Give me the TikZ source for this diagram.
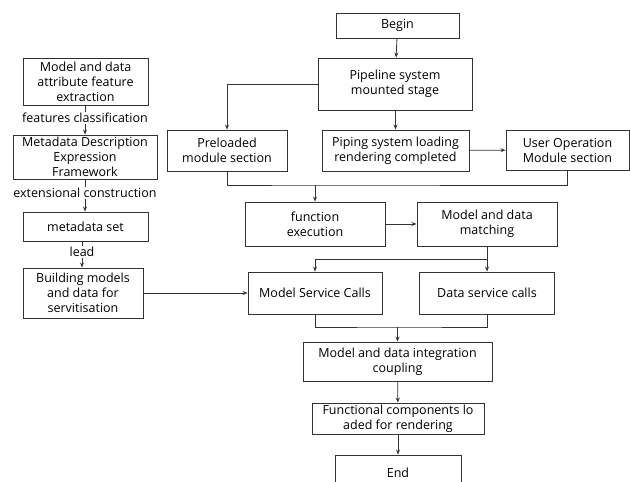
\documentclass[tikz,border=0pt]{standalone}
\usepackage{fontspec}
\setmainfont{Open Sans}
\usetikzlibrary{arrows.meta}
\begin{document}
\begin{tikzpicture}[x=1pt,y=-1pt,
  box/.style={draw=black!80,line width=0.9pt,inner sep=0pt,align=center,font=\fontsize{12.5}{15}\selectfont},
  lbl/.style={inner sep=1pt,font=\fontsize{12.5}{14}\selectfont},
  conn/.style={draw=black!80,line width=0.8pt},
  arr/.style={conn,-{Stealth[length=5pt,width=4pt]}}]
\useasboundingbox (0,0) rectangle (630,482);
\begin{scope}
\clip (0,0) rectangle (630,482);
% right column
\node[box,minimum width=123,minimum height=25] (begin) at (397.5,25.5) {Begin};
\node[box,minimum width=154,minimum height=52] (pipe) at (395,84) {Pipeline system\\mounted stage};
\node[box,minimum width=120,minimum height=41] (pre) at (227,150.5) {Preloaded\\module section};
\node[box,minimum width=147,minimum height=41] (piping) at (395.5,150.5) {Piping system loading\\rendering completed};
\node[box,minimum width=123,minimum height=40] (user) at (567.5,150) {User Operation\\Module section};
\node[box,minimum width=140,minimum height=44] (func) at (315,224) {function\\execution};
\node[box,minimum width=140,minimum height=44] (match) at (487,224) {Model and data\\matching};
\node[box,minimum width=134,minimum height=42] (msc) at (315,293) {Model Service Calls};
\node[box,minimum width=135,minimum height=42] (dsc) at (487,293) {Data service calls};
\node[box,minimum width=189,minimum height=39] (integ) at (397.5,361.5) {Model and data integration\\coupling};
\node[box,minimum width=172,minimum height=31] (fcomp) at (398,418.5) {Functional components lo\\aded for rendering};
\node[box,minimum width=126,minimum height=40,text depth=0pt] (end) at (398,475) {\raisebox{5pt}{End}};
% left column
\node[box,minimum width=125,minimum height=47] (attr) at (85.5,81.5) {Model and data\\attribute feature\\extraction};
\node[box,minimum width=144,minimum height=44] (meta) at (85,157) {Metadata Description\\Expression\\Framework};
\node[box,minimum width=125,minimum height=29] (mset) at (85.5,226.5) {metadata set};
\node[box,minimum width=120,minimum height=50] (build) at (83,293) {Building models\\and data for\\servitisation};
\node[lbl] (feat) at (85,118) {features classification};
\node[lbl] (ext) at (85,193) {extensional construction};
\node[lbl] (lead) at (82,252) {lead};
% connectors right
\draw[arr] (begin) -- (pipe);
\draw[arr] (pipe.west) -| (pre.north);
\draw[arr] (pipe.south -| piping.north) -- (piping.north);
\draw[arr] (piping) -- (user);
\coordinate (m1) at (func.north |- 0,185);
\draw[conn] (pre.south) |- (m1) -| (user.south);
\draw[arr] (m1) -- (func.north);
\draw[arr] (func) -- (match);
\coordinate (b1) at (match.south |- 0,259);
\draw[arr] (match.south) -- (dsc.north);
\draw[arr] (b1) -| (msc.north);
\coordinate (m2) at (integ.north |- 0,327);
\draw[conn] (msc.south) |- (m2) -| (dsc.south);
\draw[arr] (m2) -- (integ.north);
\draw[arr] (integ) -- (fcomp);
\draw[arr] (fcomp) -- (end);
% connectors left
\draw[conn] (attr.south -| feat.north) -- (feat.north);
\draw[arr] (feat.south) -- (meta.north -| feat.south);
\draw[conn] (meta.south -| ext.north) -- (ext.north);
\draw[arr] (ext.south) -- (mset.north -| ext.south);
\draw[conn] (mset.south -| lead.north) -- (lead.north);
\draw[arr] (lead.south) -- (build.north -| lead.south);
\draw[arr] (build.east) -- (msc.west);
\end{scope}
\end{tikzpicture}
\end{document}
